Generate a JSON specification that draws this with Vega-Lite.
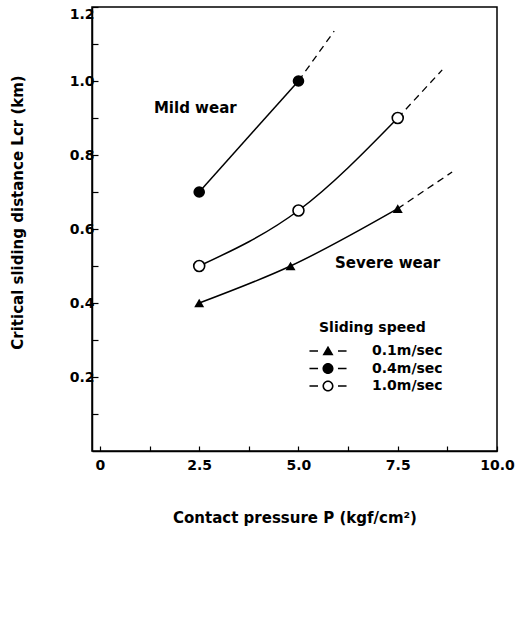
{
  "$schema": "https://vega.github.io/schema/vega-lite/v6.json",
  "autosize": "none",
  "padding": {"left": 92, "top": 7, "right": 31, "bottom": 172},
  "width": 405,
  "height": 444,
  "background": "white",
  "config": {
    "view": {"stroke": "black", "strokeWidth": 1.5},
    "font": "DejaVu Sans",
    "axis": {
      "grid": false,
      "domainColor": "black",
      "domainWidth": 1.5,
      "tickColor": "black",
      "tickWidth": 1.2,
      "labelColor": "black",
      "titleColor": "black",
      "labelFont": "DejaVu Sans",
      "titleFont": "DejaVu Sans",
      "labelFontSize": 14,
      "titleFontSize": 15,
      "labelFontWeight": "bold",
      "titleFontWeight": "bold"
    },
    "legend": {
      "labelFont": "DejaVu Sans",
      "titleFont": "DejaVu Sans"
    }
  },
  "datasets": {
    "pts": [
      {"speed": "0.1m/sec", "P": 2.5, "L": 0.40},
      {"speed": "0.1m/sec", "P": 4.8, "L": 0.50},
      {"speed": "0.1m/sec", "P": 7.5, "L": 0.655},
      {"speed": "0.4m/sec", "P": 2.5, "L": 0.70},
      {"speed": "0.4m/sec", "P": 5.0, "L": 1.00},
      {"speed": "1.0m/sec", "P": 2.5, "L": 0.50},
      {"speed": "1.0m/sec", "P": 5.0, "L": 0.65},
      {"speed": "1.0m/sec", "P": 7.5, "L": 0.90}
    ],
    "ext": [
      {"speed": "0.1m/sec", "P": 7.5, "L": 0.655},
      {"speed": "0.1m/sec", "P": 8.87, "L": 0.754},
      {"speed": "0.4m/sec", "P": 5.0, "L": 1.00},
      {"speed": "0.4m/sec", "P": 5.9, "L": 1.135},
      {"speed": "1.0m/sec", "P": 7.5, "L": 0.90},
      {"speed": "1.0m/sec", "P": 8.62, "L": 1.03}
    ],
    "notes": [
      {"P": 1.36, "L": 0.927, "text": "Mild wear"},
      {"P": 5.92, "L": 0.508, "text": "Severe wear"}
    ]
  },
  "encoding": {
    "x": {
      "field": "P",
      "type": "quantitative",
      "scale": {"domain": [-0.2, 10], "nice": false, "zero": false},
      "axis": {
        "title": "Contact pressure P (kgf/cm²)",
        "values": [0, 1.25, 2.5, 3.75, 5, 6.25, 7.5, 8.75, 10],
        "labelExpr": "datum.value == 0 ? '0' : (datum.value % 2.5 == 0 ? format(datum.value, '.1f') : '')",
        "tickSize": -5,
        "labelPadding": 12,
        "titlePadding": 38,
        "labelFlush": false,
        "labelOverlap": false
      }
    },
    "y": {
      "field": "L",
      "type": "quantitative",
      "scale": {"domain": [0, 1.2], "nice": false},
      "axis": {
        "title": "Critical sliding distance Lcr (km)",
        "values": [0.1, 0.2, 0.3, 0.4, 0.5, 0.6, 0.7, 0.8, 0.9, 1.0, 1.1, 1.2],
        "labelExpr": "round(datum.value * 10) % 2 == 0 ? format(datum.value, '.1f') : ''",
        "tickSize": -6,
        "labelPadding": 4,
        "titlePadding": 44,
        "titleY": 205,
        "labelFlush": true,
        "labelOverlap": false
      }
    }
  },
  "layer": [
    {
      "data": {"name": "pts"},
      "mark": {"type": "line", "interpolate": "monotone", "color": "black", "strokeWidth": 1.5},
      "encoding": {"detail": {"field": "speed", "type": "nominal"}}
    },
    {
      "data": {"name": "ext"},
      "mark": {"type": "line", "color": "black", "strokeWidth": 1.3, "strokeDash": [7, 5]},
      "encoding": {"detail": {"field": "speed", "type": "nominal"}}
    },
    {
      "data": {"name": "pts"},
      "transform": [{"filter": "datum.speed == '0.1m/sec'"}],
      "mark": {"type": "point", "shape": "triangle-up", "filled": true, "color": "black", "opacity": 1, "size": 100}
    },
    {
      "data": {"name": "pts"},
      "transform": [{"filter": "datum.speed == '0.4m/sec'"}],
      "mark": {"type": "point", "shape": "circle", "filled": true, "color": "black", "opacity": 1, "size": 135}
    },
    {
      "data": {"name": "pts"},
      "transform": [{"filter": "datum.speed == '1.0m/sec'"}],
      "mark": {"type": "point", "shape": "circle", "fill": "white", "stroke": "black", "strokeWidth": 1.6, "opacity": 1, "size": 120}
    },
    {
      "data": {"name": "pts"},
      "mark": {"type": "point", "opacity": 0, "filled": true, "color": "black"},
      "encoding": {
        "shape": {
          "field": "speed", "type": "nominal",
          "scale": {
            "domain": ["0.1m/sec", "0.4m/sec", "1.0m/sec"],
            "range": [
              "M-2.14,-0.09H-1.15V0.09H-2.14ZM1.15,-0.09H2.14V0.09H1.15ZM-0.64,0.5L0,-0.6L0.64,0.5Z",
              "M-2.14,-0.09H-1.15V0.09H-2.14ZM1.15,-0.09H2.14V0.09H1.15ZM-0.64,0A0.64,0.64,0,1,1,0.64,0A0.64,0.64,0,1,1,-0.64,0Z",
              "M-2.14,-0.09H-1.15V0.09H-2.14ZM1.15,-0.09H2.14V0.09H1.15ZM-0.64,0A0.64,0.64,0,1,1,0.64,0A0.64,0.64,0,1,1,-0.64,0ZM-0.46,0A0.46,0.46,0,1,0,0.46,0A0.46,0.46,0,1,0,-0.46,0Z"
            ]
          },
          "legend": {
            "title": "Sliding speed",
            "orient": "none",
            "legendX": 227,
            "legendY": 314,
            "titleFontSize": 14,
            "titleFontWeight": "bold",
            "titleColor": "black",
            "titlePadding": 7,
            "labelFontSize": 14,
            "labelFontWeight": "bold",
            "labelColor": "black",
            "labelOffset": 35,
            "symbolSize": 300,
            "symbolFillColor": "black",
            "symbolStrokeWidth": 0,
            "symbolOpacity": 1,
            "rowPadding": 1.5
          }
        }
      }
    },
    {
      "data": {"name": "notes"},
      "mark": {"type": "text", "align": "left", "baseline": "middle", "fontSize": 15, "fontWeight": "bold", "font": "DejaVu Sans", "color": "black"},
      "encoding": {"text": {"field": "text", "type": "nominal"}}
    }
  ]
}
